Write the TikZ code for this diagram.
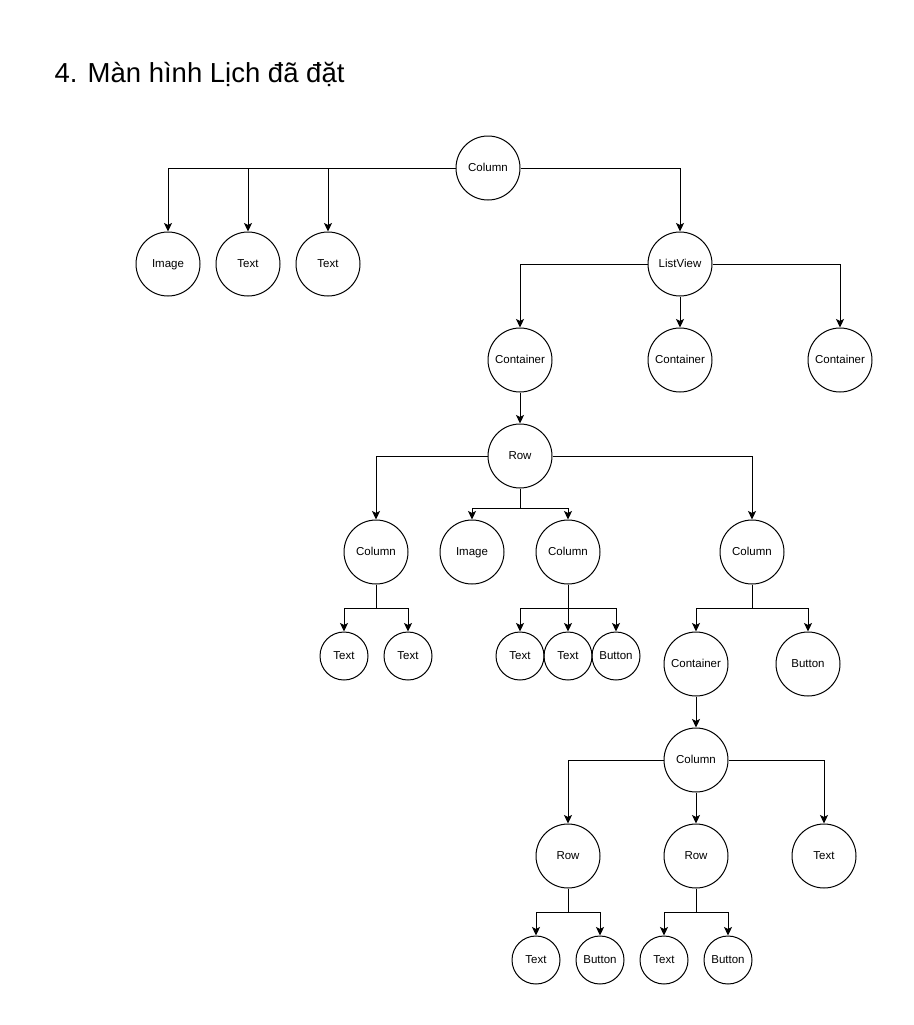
\documentclass[tikz,border=0pt]{standalone}
\usepackage{fontspec}
\setmainfont{Liberation Sans}
\usetikzlibrary{arrows.meta}
\tikzset{
  big/.style={draw,circle,line width=1pt,minimum size=64pt,inner sep=0pt,text height=8pt,text depth=2pt,font=\fontsize{11.5}{13}\selectfont},
  small/.style={big,minimum size=48pt},
  link/.style={->,line width=1pt}
}
\begin{document}
\begin{tikzpicture}[line join=miter,>={Stealth[length=8.5pt,width=8pt,inset=2pt]},x=1pt,y=-1pt]
\useasboundingbox (0,0) rectangle (913,1025);
\draw (51,82) node[anchor=base west,font=\fontsize{27.5}{32}\selectfont] (title) {4. Màn hình Lịch đã đặt};
% first level
\node[big] (col0) at (488,168) {Column};
\node[big] (img0) at (168,264) {Image};
\node[big] (txt0a) at (248,264) {Text};
\node[big] (txt0b) at (328,264) {Text};
\node[big] (lv) at (680,264) {ListView};
\node[big] (cont1) at (520,360) {Container};
\node[big] (cont2) at (680,360) {Container};
\node[big] (cont3) at (840,360) {Container};
\node[big] (row1) at (520,456) {Row};
\node[big] (colA) at (376,552) {Column};
\node[big] (imgB) at (472,552) {Image};
\node[big] (colB) at (568,552) {Column};
\node[big] (colC) at (752,552) {Column};
\node[small] (txtA1) at (344,656) {Text};
\node[small] (txtA2) at (408,656) {Text};
\node[small] (txtB1) at (520,656) {Text};
\node[small] (txtB2) at (568,656) {Text};
\node[small] (btnB) at (616,656) {Button};
\node[big] (contC) at (696,664) {Container};
\node[big] (btnC) at (808,664) {Button};
\node[big] (colD) at (696,760) {Column};
\node[big] (rowD1) at (568,856) {Row};
\node[big] (rowD2) at (696,856) {Row};
\node[big] (txtD) at (824,856) {Text};
\node[small] (txtE1) at (536,960) {Text};
\node[small] (btnE1) at (600,960) {Button};
\node[small] (txtE2) at (664,960) {Text};
\node[small] (btnE2) at (728,960) {Button};
% connectors
\draw[link] (col0) -| (img0);
\draw[link] (col0) -| (txt0a);
\draw[link] (col0) -| (txt0b);
\draw[link] (col0) -| (lv);
\draw[link] (lv) -| (cont1);
\draw[link] (lv) -- (cont2);
\draw[link] (lv) -| (cont3);
\draw[link] (cont1) -- (row1);
\draw[link] (row1) -| (colA);
\draw[link] (row1) -- ++(0,52) -| (imgB);
\draw[link] (row1) -- ++(0,52) -| (colB);
\draw[link] (row1) -| (colC);
\draw[link] (colA) -- ++(0,56) -| (txtA1);
\draw[link] (colA) -- ++(0,56) -| (txtA2);
\draw[link] (colB) -- ++(0,56) -| (txtB1);
\draw[link] (colB) -- (txtB2);
\draw[link] (colB) -- ++(0,56) -| (btnB);
\draw[link] (colC) -- ++(0,56) -| (contC);
\draw[link] (colC) -- ++(0,56) -| (btnC);
\draw[link] (contC) -- (colD);
\draw[link] (colD) -| (rowD1);
\draw[link] (colD) -- (rowD2);
\draw[link] (colD) -| (txtD);
\draw[link] (rowD1) -- ++(0,56) -| (txtE1);
\draw[link] (rowD1) -- ++(0,56) -| (btnE1);
\draw[link] (rowD2) -- ++(0,56) -| (txtE2);
\draw[link] (rowD2) -- ++(0,56) -| (btnE2);
\end{tikzpicture}
\end{document}
